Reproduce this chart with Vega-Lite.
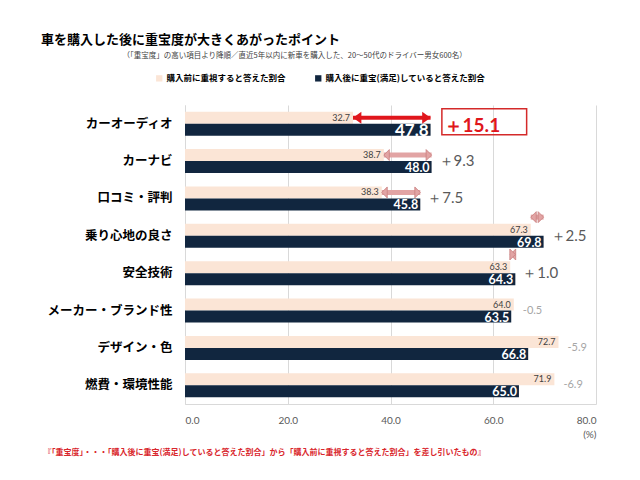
{
  "$schema": "https://vega.github.io/schema/vega-lite/v6.json",
  "width": 411,
  "height": 299,
  "autosize": {"type": "none"},
  "padding": {"left": 185, "top": 105, "right": 44, "bottom": 76},
  "background": "white",
  "title": {
    "text": "車を購入した後に重宝度が大きくあがったポイント",
    "anchor": "start",
    "frame": "group",
    "dx": -144,
    "font": "Noto Sans CJK JP",
    "fontSize": 13,
    "fontWeight": "bold",
    "color": "#000000",
    "offset": 4
  },
  "datasets": {
    "bars": [
      {"cat": "カーオーディオ", "series": "購入前に重視すると答えた割合", "value": 32.7},
      {"cat": "カーオーディオ", "series": "購入後に重宝(満足)していると答えた割合", "value": 47.8},
      {"cat": "カーナビ", "series": "購入前に重視すると答えた割合", "value": 38.7},
      {"cat": "カーナビ", "series": "購入後に重宝(満足)していると答えた割合", "value": 48.0},
      {"cat": "口コミ・評判", "series": "購入前に重視すると答えた割合", "value": 38.3},
      {"cat": "口コミ・評判", "series": "購入後に重宝(満足)していると答えた割合", "value": 45.8},
      {"cat": "乗り心地の良さ", "series": "購入前に重視すると答えた割合", "value": 67.3},
      {"cat": "乗り心地の良さ", "series": "購入後に重宝(満足)していると答えた割合", "value": 69.8},
      {"cat": "安全技術", "series": "購入前に重視すると答えた割合", "value": 63.3},
      {"cat": "安全技術", "series": "購入後に重宝(満足)していると答えた割合", "value": 64.3},
      {"cat": "メーカー・ブランド性", "series": "購入前に重視すると答えた割合", "value": 64.0},
      {"cat": "メーカー・ブランド性", "series": "購入後に重宝(満足)していると答えた割合", "value": 63.5},
      {"cat": "デザイン・色", "series": "購入前に重視すると答えた割合", "value": 72.7},
      {"cat": "デザイン・色", "series": "購入後に重宝(満足)していると答えた割合", "value": 66.8},
      {"cat": "燃費・環境性能", "series": "購入前に重視すると答えた割合", "value": 71.9},
      {"cat": "燃費・環境性能", "series": "購入後に重宝(満足)していると答えた割合", "value": 65.0}
    ],
    "notes": [
      {"cat": "カーオーディオ", "before": 32.7, "after": 47.8, "diff": 15.1, "diffLabel": "＋15.1"},
      {"cat": "カーナビ", "before": 38.7, "after": 48.0, "diff": 9.3, "diffLabel": "＋9.3"},
      {"cat": "口コミ・評判", "before": 38.3, "after": 45.8, "diff": 7.5, "diffLabel": "＋7.5"},
      {"cat": "乗り心地の良さ", "before": 67.3, "after": 69.8, "diff": 2.5, "diffLabel": "＋2.5"},
      {"cat": "安全技術", "before": 63.3, "after": 64.3, "diff": 1.0, "diffLabel": "＋1.0"},
      {"cat": "メーカー・ブランド性", "before": 64.0, "after": 63.5, "diff": -0.5, "diffLabel": "-0.5"},
      {"cat": "デザイン・色", "before": 72.7, "after": 66.8, "diff": -5.9, "diffLabel": "-5.9"},
      {"cat": "燃費・環境性能", "before": 71.9, "after": 65.0, "diff": -6.9, "diffLabel": "-6.9"}
    ]
  },
  "encoding": {
    "y": {
      "field": "cat",
      "type": "nominal",
      "scale": {
        "domain": ["カーオーディオ", "カーナビ", "口コミ・評判", "乗り心地の良さ", "安全技術", "メーカー・ブランド性", "デザイン・色", "燃費・環境性能"],
        "paddingInner": 0,
        "paddingOuter": 0
      },
      "axis": {
        "title": "（「重宝度」の高い項目より降順／直近5年以内に新車を購入した、20〜50代のドライバー男女600名）",
        "titleAngle": 0,
        "titleX": -63,
        "titleY": -50,
        "titleAlign": "left",
        "titleBaseline": "middle",
        "titleFont": "Noto Sans CJK JP",
        "titleFontSize": 7.5,
        "titleFontWeight": "normal",
        "titleColor": "#404040",
        "ticks": false,
        "domainColor": "#d9d9d9",
        "labelFont": "Noto Sans CJK JP",
        "labelFontWeight": "bold",
        "labelFontSize": 12.5,
        "labelColor": "#000000",
        "labelPadding": 13,
        "grid": false
      }
    }
  },
  "layer": [
    {
      "data": {"name": "bars"},
      "mark": {"type": "bar"},
      "encoding": {
        "x": {
          "field": "value",
          "type": "quantitative",
          "scale": {"domain": [0, 80], "nice": false},
          "axis": {
            "values": [0, 20, 40, 60, 80],
            "labelExpr": "datum.value == 80 ? ['80.0', '\u00a0\u00a0\u00a0\u00a0\u00a0\u00a0\u00a0(%)'] : format(datum.value, '.1f')",
            "labelFont": "Lato",
            "labelFontSize": 10,
            "labelColor": "#595959",
            "labelPadding": 11,
            "labelLineHeight": 14,
            "labelBaseline": "top",
            "ticks": false,
            "domainColor": "#d9d9d9",
            "gridColor": "#d9d9d9",
            "grid": true,
            "title": "『「重宝度」・・・「購入後に重宝(満足)していると答えた割合」から「購入前に重視すると答えた割合」を差し引いたもの』",
            "titleFont": "Noto Sans CJK JP",
            "titleFontSize": 8,
            "titleFontWeight": "bold",
            "titleColor": "#d9262c",
            "titleX": 79,
            "titleY": 48,
            "titleAlign": "center",
            "titleBaseline": "middle"
          }
        },
        "yOffset": {
          "field": "series",
          "type": "nominal",
          "scale": {
            "domain": ["購入前に重視すると答えた割合", "購入後に重宝(満足)していると答えた割合"],
            "paddingInner": 0,
            "paddingOuter": 0.56
          }
        },
        "color": {
          "field": "series",
          "type": "nominal",
          "scale": {
            "domain": ["購入前に重視すると答えた割合", "購入後に重宝(満足)していると答えた割合"],
            "range": ["#fbe5d6", "#11263f"]
          },
          "legend": {
            "title": null,
            "orient": "none",
            "legendX": -30,
            "legendY": -31,
            "direction": "horizontal",
            "symbolType": "square",
            "symbolSize": 40,
            "symbolStrokeWidth": 0,
            "labelFont": "Noto Sans CJK JP",
            "labelFontWeight": "bold",
            "labelFontSize": 8.5,
            "labelColor": "#000000",
            "labelOffset": 3,
            "columnPadding": 28
          }
        }
      }
    },
    {
      "data": {"name": "bars"},
      "transform": [{"filter": "datum.series == '購入前に重視すると答えた割合'"}],
      "mark": {"type": "text", "align": "right", "baseline": "middle", "dx": -3, "font": "Lato", "fontSize": 9, "color": "#404040"},
      "encoding": {
        "x": {"field": "value", "type": "quantitative"},
        "yOffset": {"field": "series", "type": "nominal"},
        "text": {"field": "value", "type": "quantitative", "format": ".1f"}
      }
    },
    {
      "data": {"name": "bars"},
      "transform": [{"filter": "datum.series != '購入前に重視すると答えた割合'"}],
      "mark": {"type": "text", "align": "right", "baseline": "middle", "dx": -2, "dy": 1, "font": "Lato", "fontWeight": "bold", "color": "#ffffff"},
      "encoding": {
        "x": {"field": "value", "type": "quantitative"},
        "yOffset": {"field": "series", "type": "nominal"},
        "text": {"field": "value", "type": "quantitative", "format": ".1f"},
        "size": {"condition": {"test": "datum.cat == 'カーオーディオ'", "value": 17}, "value": 12.5}
      }
    },
    {
      "data": {"name": "notes"},
      "transform": [{"filter": "datum.diff > 10"}],
      "mark": {"type": "bar", "height": 26, "yOffset": -2, "fill": "#ffffff", "fillOpacity": 0, "stroke": "#d42a2a", "strokeWidth": 1.5},
      "encoding": {
        "x": {"datum": 50.0},
        "x2": {"datum": 66.5}
      }
    },
    {
      "data": {"name": "notes"},
      "transform": [{"filter": "datum.diff > 10"}],
      "mark": {"type": "text", "align": "left", "baseline": "middle", "dx": 13, "dy": 2, "font": "Lato", "fontSize": 19, "fontWeight": "bold", "color": "#e0161c"},
      "encoding": {
        "x": {"field": "after", "type": "quantitative"},
        "text": {"field": "diffLabel", "type": "nominal"}
      }
    },
    {
      "data": {"name": "notes"},
      "transform": [{"filter": "datum.diff > 0 && datum.diff < 10"}],
      "mark": {"type": "text", "align": "left", "baseline": "middle", "dx": 7, "font": "Lato", "fontSize": 15, "color": "#595959"},
      "encoding": {
        "x": {"field": "after", "type": "quantitative"},
        "text": {"field": "diffLabel", "type": "nominal"}
      }
    },
    {
      "data": {"name": "notes"},
      "transform": [{"filter": "datum.diff < 0"}],
      "mark": {"type": "text", "align": "left", "baseline": "middle", "dx": 9, "font": "Lato", "fontSize": 11, "color": "#a6a6a6"},
      "encoding": {
        "x": {"field": "before", "type": "quantitative"},
        "text": {"field": "diffLabel", "type": "nominal"}
      }
    },
    {
      "data": {"name": "notes"},
      "transform": [{"filter": "datum.diff > 10"}],
      "mark": {"type": "rule", "color": "#e0161c", "strokeWidth": 4},
      "encoding": {
        "x": {"field": "before", "type": "quantitative"},
        "x2": {"field": "after"},
        "yOffset": {"datum": "購入前に重視すると答えた割合"}
      }
    },
    {
      "data": {"name": "notes"},
      "transform": [{"filter": "datum.diff > 10"}],
      "mark": {"type": "point", "shape": "M0,0 L1.4,-1 L1.4,1 Z", "size": 144, "filled": true, "color": "#e0161c", "opacity": 1},
      "encoding": {
        "x": {"field": "before", "type": "quantitative"},
        "yOffset": {"datum": "購入前に重視すると答えた割合"}
      }
    },
    {
      "data": {"name": "notes"},
      "transform": [{"filter": "datum.diff > 10"}],
      "mark": {"type": "point", "shape": "M0,0 L-1.4,-1 L-1.4,1 Z", "size": 144, "filled": true, "color": "#e0161c", "opacity": 1},
      "encoding": {
        "x": {"field": "after", "type": "quantitative"},
        "yOffset": {"datum": "購入前に重視すると答えた割合"}
      }
    },
    {
      "data": {"name": "notes"},
      "transform": [{"filter": "datum.diff >= 5 && datum.diff < 10"}],
      "mark": {"type": "rule", "color": "#e2a4a4", "strokeWidth": 5},
      "encoding": {
        "x": {"field": "before", "type": "quantitative"},
        "x2": {"field": "after"},
        "yOffset": {"datum": "購入前に重視すると答えた割合"}
      }
    },
    {
      "data": {"name": "notes"},
      "transform": [{"filter": "datum.diff >= 5 && datum.diff < 10"}],
      "mark": {"type": "point", "shape": "M0,0 L1,-1 L1,1 Z", "size": 121, "filled": true, "fill": "#e2a4a4", "stroke": "#c98080", "strokeWidth": 0.8, "opacity": 1},
      "encoding": {
        "x": {"field": "before", "type": "quantitative"},
        "yOffset": {"datum": "購入前に重視すると答えた割合"}
      }
    },
    {
      "data": {"name": "notes"},
      "transform": [{"filter": "datum.diff >= 5 && datum.diff < 10"}],
      "mark": {"type": "point", "shape": "M0,0 L-1,-1 L-1,1 Z", "size": 121, "filled": true, "fill": "#e2a4a4", "stroke": "#c98080", "strokeWidth": 0.8, "opacity": 1},
      "encoding": {
        "x": {"field": "after", "type": "quantitative"},
        "yOffset": {"datum": "購入前に重視すると答えた割合"}
      }
    },
    {
      "data": {"name": "notes"},
      "transform": [{"filter": "datum.diff > 0 && datum.diff < 5"}],
      "mark": {"type": "rule", "color": "#e2a4a4", "strokeWidth": 5},
      "encoding": {
        "x": {"field": "before", "type": "quantitative"},
        "x2": {"field": "after"},
        "y": {"field": "cat", "type": "nominal", "bandPosition": 0}
      }
    },
    {
      "data": {"name": "notes"},
      "transform": [{"filter": "datum.diff > 0 && datum.diff < 5"}],
      "mark": {"type": "point", "shape": "M0,0 L1,-1 L1,1 Z", "size": 121, "filled": true, "fill": "#e2a4a4", "stroke": "#c98080", "strokeWidth": 0.8, "opacity": 1},
      "encoding": {
        "x": {"field": "before", "type": "quantitative"},
        "y": {"field": "cat", "type": "nominal", "bandPosition": 0}
      }
    },
    {
      "data": {"name": "notes"},
      "transform": [{"filter": "datum.diff > 0 && datum.diff < 5"}],
      "mark": {"type": "point", "shape": "M0,0 L-1,-1 L-1,1 Z", "size": 121, "filled": true, "fill": "#e2a4a4", "stroke": "#c98080", "strokeWidth": 0.8, "opacity": 1},
      "encoding": {
        "x": {"field": "after", "type": "quantitative"},
        "y": {"field": "cat", "type": "nominal", "bandPosition": 0}
      }
    }
  ],
  "config": {"view": {"stroke": null}}
}
